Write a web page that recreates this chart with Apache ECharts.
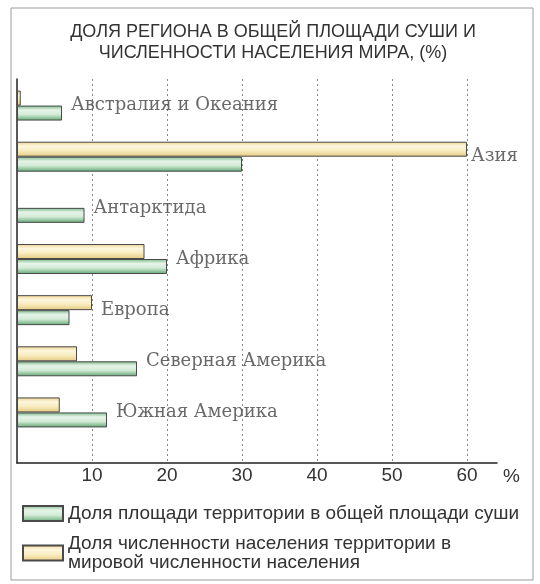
<!DOCTYPE html>
<html>
<head>
<meta charset="utf-8">
<script src="https://cdn.jsdelivr.net/npm/echarts@6/dist/echarts.min.js"></script>
<style>html,body{margin:0;padding:0;background:#fff}#c{width:540px;height:584px}</style>
</head>
<body>
<div id="c"></div>
<script>
// ---- data ----
const categories = ['Австралия и Океания', 'Азия', 'Антарктида', 'Африка', 'Европа', 'Северная Америка', 'Южная Америка'];
const areaShare = [6, 30, 9, 20, 7, 16, 12];          // % of world land area
const populationShare = [0.5, 60, null, 17, 10, 8, 5.7]; // % of world population
const xTicks = [10, 20, 30, 40, 50, 60];
const titleText = 'ДОЛЯ РЕГИОНА В ОБЩЕЙ ПЛОЩАДИ СУШИ И\nЧИСЛЕННОСТИ НАСЕЛЕНИЯ МИРА, (%)';
const areaName = 'Доля площади территории в общей площади суши';
const popName = 'Доля численности населения территории в\nмировой численности населения';

const chart = echarts.init(document.getElementById('c'), null, {renderer: 'canvas'});

const greenFill = new echarts.graphic.LinearGradient(0, 0, 0, 1, [
  {offset: 0, color: '#79b98a'}, {offset: 0.3, color: '#e6f4e8'},
  {offset: 0.6, color: '#d3ebd7'}, {offset: 1, color: '#5fa672'}]);
const yellowFill = new echarts.graphic.LinearGradient(0, 0, 0, 1, [
  {offset: 0, color: '#ecd18c'}, {offset: 0.3, color: '#fdf7de'},
  {offset: 0.6, color: '#f8ecc0'}, {offset: 1, color: '#e5c97e'}]);

const labelData = categories.map((c, i) => ({
  value: [Math.max(areaShare[i] || 0, populationShare[i] || 0), c],
  label: {distance: i === 1 ? 4 : 9}
}));

const legendText = {fontFamily: 'Liberation Sans', fontSize: 19, color: '#333', lineHeight: 19};

chart.setOption({
  animation: false,
  backgroundColor: '#fff',
  title: {
    text: titleText, left: 268, top: 17, textAlign: 'center',
    textStyle: {fontFamily: 'Liberation Sans', fontSize: 18, fontWeight: 'normal', color: '#333', lineHeight: 21}
  },
  graphic: [{
    type: 'rect', shape: {x: 11, y: 8, width: 522, height: 572}, silent: true,
    style: {fill: 'none', stroke: '#9a9a9a', lineWidth: 1}
  }],
  legend: [
    {orient: 'vertical', left: 17, top: 499, itemWidth: 40, itemHeight: 15, icon: 'rect', itemGap: 10,
     data: [areaName], textStyle: legendText, selectedMode: false},
    {orient: 'vertical', left: 17, top: 529, itemWidth: 40, itemHeight: 15, icon: 'rect', itemGap: 10,
     data: [popName], textStyle: legendText, selectedMode: false}
  ],
  grid: [
    {left: 17, top: 80, width: 450, height: 358},
    {left: 17, top: 79, width: 480, height: 384}
  ],
  xAxis: [
    {gridIndex: 0, type: 'value', min: 0, max: 60, show: false},
    {gridIndex: 1, type: 'value', min: 0, max: 64, interval: 10,
     axisLine: {show: true, lineStyle: {color: '#222', width: 1.5}},
     axisTick: {show: false},
     splitLine: {show: true, showMinLine: false, showMaxLine: false, lineStyle: {color: '#888', type: [2, 3], width: 1}},
     axisLabel: {
       showMaxLabel: false, margin: 3,
       formatter: v => (xTicks.indexOf(v) >= 0 ? String(v) : ''),
       fontFamily: 'Liberation Sans', fontSize: 19, color: '#333'
     },
     name: '%', nameLocation: 'end', nameGap: 6,
     nameTextStyle: {fontFamily: 'Liberation Sans', fontSize: 19, color: '#333', verticalAlign: 'top', padding: [4, 0, 0, 0]}
    }
  ],
  yAxis: [
    {gridIndex: 0, type: 'category', inverse: true, data: categories, show: false},
    {gridIndex: 1, type: 'value', min: 0, max: 1,
     axisLine: {show: true, lineStyle: {color: '#222', width: 1.5}},
     axisTick: {show: false}, axisLabel: {show: false}, splitLine: {show: false}}
  ],
  series: [
    {name: popName, type: 'bar', xAxisIndex: 0, yAxisIndex: 0, data: populationShare,
     barWidth: 15, barGap: '0%',
     itemStyle: {color: yellowFill, borderColor: '#4a4a4a', borderWidth: 1}},
    {name: areaName, type: 'bar', xAxisIndex: 0, yAxisIndex: 0, data: areaShare,
     barWidth: 15, barGap: '0%',
     itemStyle: {color: greenFill, borderColor: '#4a4a4a', borderWidth: 1}},
    {type: 'scatter', xAxisIndex: 0, yAxisIndex: 0, symbolSize: 0, data: labelData, silent: true,
     label: {show: true, position: 'right', formatter: p => p.value[1],
             fontFamily: 'DejaVu Serif', fontSize: 18, color: '#444'}}
  ]
});
</script>
</body>
</html>
